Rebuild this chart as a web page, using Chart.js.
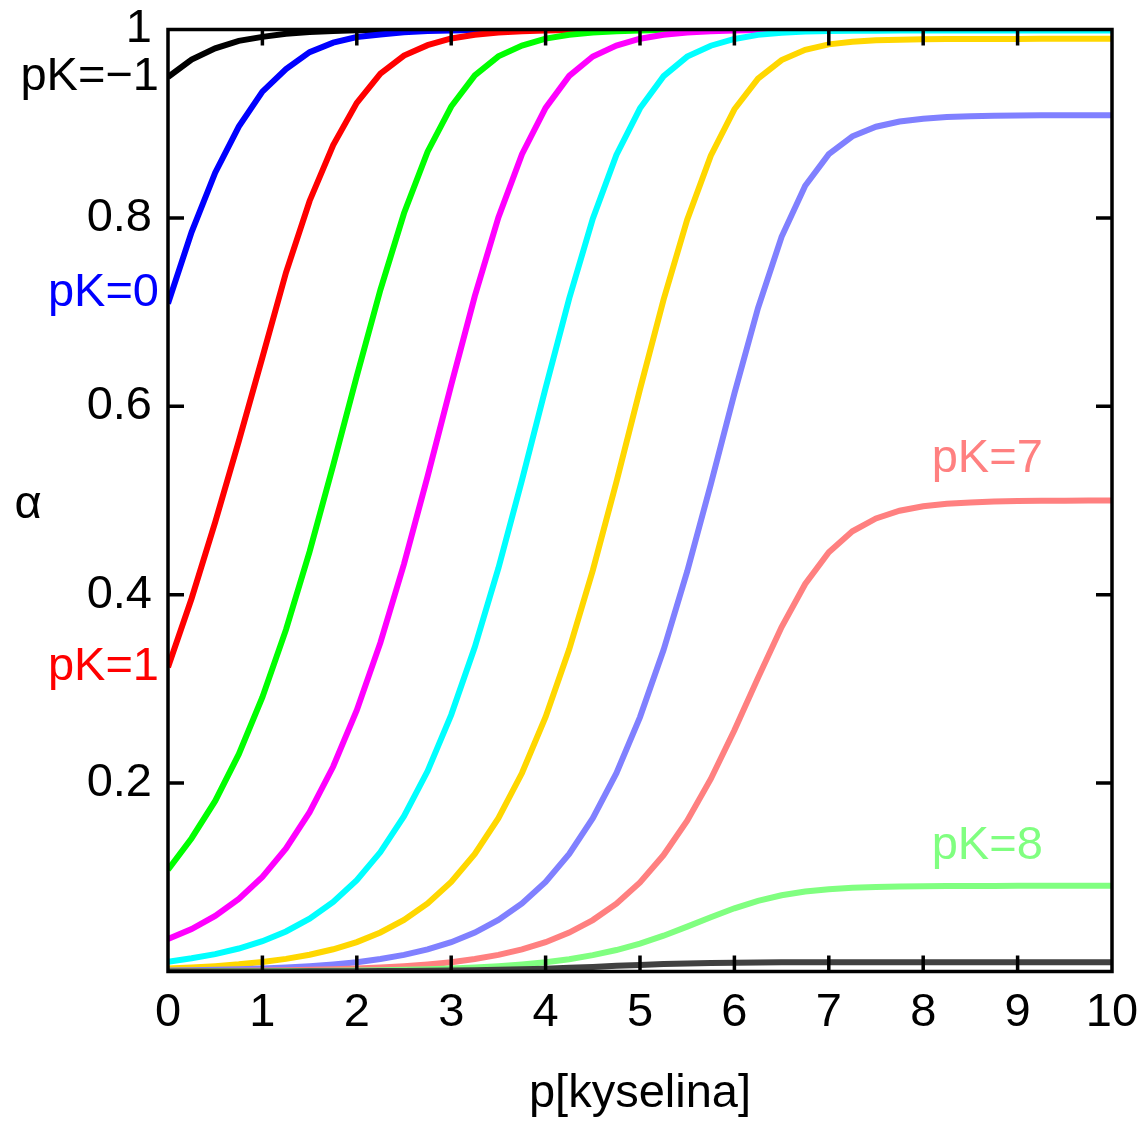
<!DOCTYPE html>
<html>
<head>
<meta charset="utf-8">
<title>alpha vs p[kyselina]</title>
<script src="https://cdn.jsdelivr.net/npm/chart.js@4"></script>
<style>
  html, body { margin: 0; padding: 0; background: #fff; }
  canvas { display: block; }
</style>
</head>
<body>
<canvas id="chart" width="1144" height="1122"></canvas>
<script>
// p[kyselina] sampled every 0.25
const pAcid = [0, 0.25, 0.5, 0.75, 1, 1.25, 1.5, 1.75, 2, 2.25, 2.5, 2.75, 3, 3.25, 3.5, 3.75,
  4, 4.25, 4.5, 4.75, 5, 5.25, 5.5, 5.75, 6, 6.25, 6.5, 6.75, 7, 7.25, 7.5, 7.75,
  8, 8.25, 8.5, 8.75, 9, 9.25, 9.5, 9.75, 10];

// degree of dissociation alpha, one array per pK
const alphaPKm1 = [0.9495, 0.968, 0.980, 0.988, 0.9922, 0.9955, 0.9973, 0.9985,
  0.9991, 0.9995, 0.9997, 0.9998, 0.9999, 1, 1, 1,
  1, 1, 1, 1, 1, 1, 1, 1, 1, 1, 1, 1, 1, 1, 1, 1,
  1, 1, 1, 1, 1, 1, 1, 1, 1];
const alphaPK0 = [0.709, 0.785, 0.848, 0.897, 0.934, 0.958, 0.976, 0.986,
  0.992, 0.9948, 0.997, 0.9983, 0.999, 0.9994, 0.9997, 0.9998,
  0.9999, 1, 1, 1, 1, 1, 1, 1, 1, 1, 1, 1, 1, 1, 1, 1,
  1, 1, 1, 1, 1, 1, 1, 1, 1];
const alphaPK1 = [0.323, 0.396, 0.477, 0.563, 0.652, 0.742, 0.818, 0.8774,
  0.9221, 0.9532, 0.9724, 0.9834, 0.9905, 0.9945, 0.9969, 0.9982,
  0.999, 0.9994, 0.9997, 0.9998, 0.9999, 1, 1, 1, 1, 1, 1, 1, 1, 1, 1, 1,
  1, 1, 1, 1, 1, 1, 1, 1, 1];
const alphaPK2 = [0.108, 0.1415, 0.1811, 0.2307, 0.2912, 0.3629, 0.4457, 0.5374,
  0.6321, 0.7237, 0.8049, 0.8703, 0.9182, 0.9513, 0.9715, 0.983,
  0.9903, 0.9945, 0.9969, 0.9982, 0.999, 0.9994, 0.9997, 0.9998,
  0.9999, 1, 1, 1, 1, 1, 1, 1,
  1, 1, 1, 1, 1, 1, 1, 1, 1];
const alphaPK3 = [0.0345, 0.045, 0.059, 0.077, 0.1004, 0.1307, 0.1692, 0.2176,
  0.2774, 0.3491, 0.4326, 0.5256, 0.6226, 0.7169, 0.8006, 0.8677,
  0.9168, 0.9507, 0.9713, 0.9829, 0.9902, 0.9945, 0.9969, 0.9982,
  0.999, 0.9994, 0.9996, 0.9997, 0.9998, 0.9999, 0.9999, 0.9999,
  0.9999, 0.9999, 0.9999, 0.9999, 0.9999, 0.9999, 0.9999, 0.9999, 0.9999];
const alphaPK4 = [0.0102, 0.014, 0.0184, 0.0244, 0.0322, 0.0425, 0.0561, 0.0738,
  0.0969, 0.1268, 0.1648, 0.2128, 0.2725, 0.3444, 0.4281, 0.5217,
  0.6195, 0.7145, 0.7992, 0.8669, 0.9163, 0.9505, 0.9712, 0.9828,
  0.99, 0.9943, 0.9966, 0.9978, 0.9984, 0.9987, 0.9988, 0.9989,
  0.999, 0.999, 0.999, 0.999, 0.999, 0.999, 0.999, 0.999, 0.999];
const alphaPK5 = [0.0032, 0.0043, 0.0057, 0.0076, 0.0101, 0.0134, 0.0178, 0.0236,
  0.0312, 0.0414, 0.0547, 0.0722, 0.0951, 0.1248, 0.1627, 0.2107,
  0.2702, 0.3421, 0.4258, 0.5197, 0.618, 0.7134, 0.7981, 0.866,
  0.9153, 0.9478, 0.9675, 0.9785, 0.9842, 0.987, 0.9885, 0.9892,
  0.9896, 0.9898, 0.9899, 0.99, 0.99, 0.9901, 0.9901, 0.9901, 0.9901];
const alphaPK6 = [0.001, 0.0013, 0.0018, 0.0024, 0.0032, 0.0042, 0.0056, 0.0075,
  0.0099, 0.0132, 0.0176, 0.0234, 0.0311, 0.0413, 0.0547, 0.0722,
  0.0951, 0.1248, 0.1627, 0.2106, 0.2701, 0.3415, 0.4247, 0.5173,
  0.6137, 0.7043, 0.78, 0.8342, 0.8677, 0.8866, 0.8968, 0.9023,
  0.9053, 0.907, 0.9079, 0.9084, 0.9087, 0.9089, 0.909, 0.909, 0.9091];
const alphaPK7 = [0.0003, 0.0004, 0.0006, 0.0007, 0.001, 0.0013, 0.0018, 0.0024,
  0.0032, 0.0042, 0.0056, 0.0075, 0.0099, 0.0132, 0.0176, 0.0234,
  0.0311, 0.0413, 0.0546, 0.072, 0.0946, 0.1236, 0.16, 0.2044,
  0.256, 0.3117, 0.3657, 0.4114, 0.4451, 0.4673, 0.481, 0.4891,
  0.4939, 0.4965, 0.498, 0.4989, 0.4994, 0.4997, 0.4998, 0.4999, 0.4999];
const alphaPK8 = [0.0001, 0.0001, 0.0002, 0.0002, 0.0003, 0.0004, 0.0006, 0.0007,
  0.001, 0.0013, 0.0018, 0.0024, 0.0032, 0.0042, 0.0056, 0.0075,
  0.0099, 0.0131, 0.0174, 0.0228, 0.0297, 0.038, 0.0476, 0.0576,
  0.0671, 0.075, 0.0809, 0.0849, 0.0874, 0.0889, 0.0898, 0.0902,
  0.0905, 0.0907, 0.0908, 0.0908, 0.0909, 0.0909, 0.0909, 0.0909, 0.0909];
const alphaPK9 = [0, 0, 0.0001, 0.0001, 0.0001, 0.0001, 0.0002, 0.0002,
  0.0003, 0.0004, 0.0006, 0.0008, 0.001, 0.0013, 0.0018, 0.0023,
  0.003, 0.0039, 0.0049, 0.006, 0.007, 0.0079, 0.0086, 0.0091,
  0.0094, 0.0096, 0.0098, 0.0098, 0.0099, 0.0099, 0.0099, 0.0099,
  0.0099, 0.0099, 0.0099, 0.0099, 0.0099, 0.0099, 0.0099, 0.0099, 0.0099];

const pKs = [-1, 0, 1, 2, 3, 4, 5, 6, 7, 8, 9];
const seriesList = [alphaPKm1, alphaPK0, alphaPK1, alphaPK2, alphaPK3, alphaPK4,
  alphaPK5, alphaPK6, alphaPK7, alphaPK8, alphaPK9];
const colors = ['#000000', '#0000ff', '#ff0000', '#00ff00', '#ff00ff', '#00ffff',
  '#ffd700', '#8080ff', '#ff8080', '#80ff80', '#404040'];

const xTicks = [0, 1, 2, 3, 4, 5, 6, 7, 8, 9, 10];
const yTicks = [0.2, 0.4, 0.6, 0.8, 1];

// text labels next to some curves (data coordinates + pixel nudge)
const curveLabels = [
  { text: 'pK=\u22121', color: '#000000', x: 0, y: 0.9495, align: 'right', dx: -9 },
  { text: 'pK=0', color: '#0000ff', x: 0, y: 0.72, align: 'right', dx: -9 },
  { text: 'pK=1', color: '#ff0000', x: 0, y: 0.323, align: 'right', dx: -9 },
  { text: 'pK=7', color: '#ff8080', x: 8.09, y: 0.544, align: 'left', dx: 0 },
  { text: 'pK=8', color: '#80ff80', x: 8.09, y: 0.133, align: 'left', dx: 0 }
];

const FONT = '"Liberation Sans", Arial, Helvetica, sans-serif';
const FONT_SIZE = 47;

function drawText(ctx, text, x, y, align, color) {
  ctx.save();
  ctx.font = FONT_SIZE + 'px ' + FONT;
  ctx.fillStyle = color || '#000';
  ctx.textBaseline = 'middle';
  ctx.textAlign = align;
  ctx.fillText(text, x, y);
  ctx.restore();
}

const framePlugin = {
  id: 'frame',
  afterDatasetsDraw(chart) {
    const { ctx, chartArea: a, scales: { x, y } } = chart;
    const tick = 16;
    ctx.save();
    ctx.strokeStyle = '#000';
    ctx.lineWidth = 3.5;
    ctx.lineCap = 'butt';
    ctx.beginPath();
    xTicks.forEach(v => {
      if (v <= x.min || v >= x.max) return;
      const px = x.getPixelForValue(v);
      ctx.moveTo(px, a.bottom); ctx.lineTo(px, a.bottom - tick);
      ctx.moveTo(px, a.top); ctx.lineTo(px, a.top + tick);
    });
    yTicks.forEach(v => {
      if (v <= y.min || v >= y.max) return;
      const py = y.getPixelForValue(v);
      ctx.moveTo(a.left, py); ctx.lineTo(a.left + tick, py);
      ctx.moveTo(a.right, py); ctx.lineTo(a.right - tick, py);
    });
    ctx.stroke();
    ctx.strokeRect(a.left, a.top, a.right - a.left, a.bottom - a.top);
    ctx.restore();

    // tick labels
    xTicks.forEach(v => drawText(ctx, String(v), x.getPixelForValue(v), a.bottom + 42, 'center'));
    yTicks.forEach(v => drawText(ctx, String(v), a.left - 16, y.getPixelForValue(v), 'right'));

    // axis titles
    drawText(ctx, 'p[kyselina]', (a.left + a.right) / 2, a.bottom + 123, 'center');
    drawText(ctx, '\u03b1', 28, 505, 'center');

    // curve labels
    curveLabels.forEach(l => {
      drawText(ctx, l.text, x.getPixelForValue(l.x) + l.dx, y.getPixelForValue(l.y), l.align, l.color);
    });
  }
};

const datasets = seriesList.map((vals, i) => ({
  label: 'pK=' + pKs[i],
  data: pAcid.map((p, j) => ({ x: p, y: vals[j] })),
  borderColor: colors[i],
  backgroundColor: colors[i],
  borderWidth: 6,
  pointRadius: 0,
  tension: 0,
  fill: false,
  order: seriesList.length - i
}));

new Chart(document.getElementById('chart').getContext('2d'), {
  type: 'line',
  data: { datasets: datasets },
  options: {
    responsive: false,
    animation: false,
    layout: { padding: { top: 29.5, right: 32, left: 0, bottom: 0 } },
    plugins: { legend: { display: false }, tooltip: { enabled: false } },
    scales: {
      x: {
        type: 'linear', min: 0, max: 10,
        ticks: { display: false, stepSize: 1 },
        grid: { display: false }, border: { display: false },
        afterFit(s) { s.height = 150.5; }
      },
      y: {
        type: 'linear', min: 0, max: 1,
        ticks: { display: false, stepSize: 0.2 },
        grid: { display: false }, border: { display: false },
        afterFit(s) { s.width = 168; }
      }
    }
  },
  plugins: [framePlugin]
});
</script>
</body>
</html>
